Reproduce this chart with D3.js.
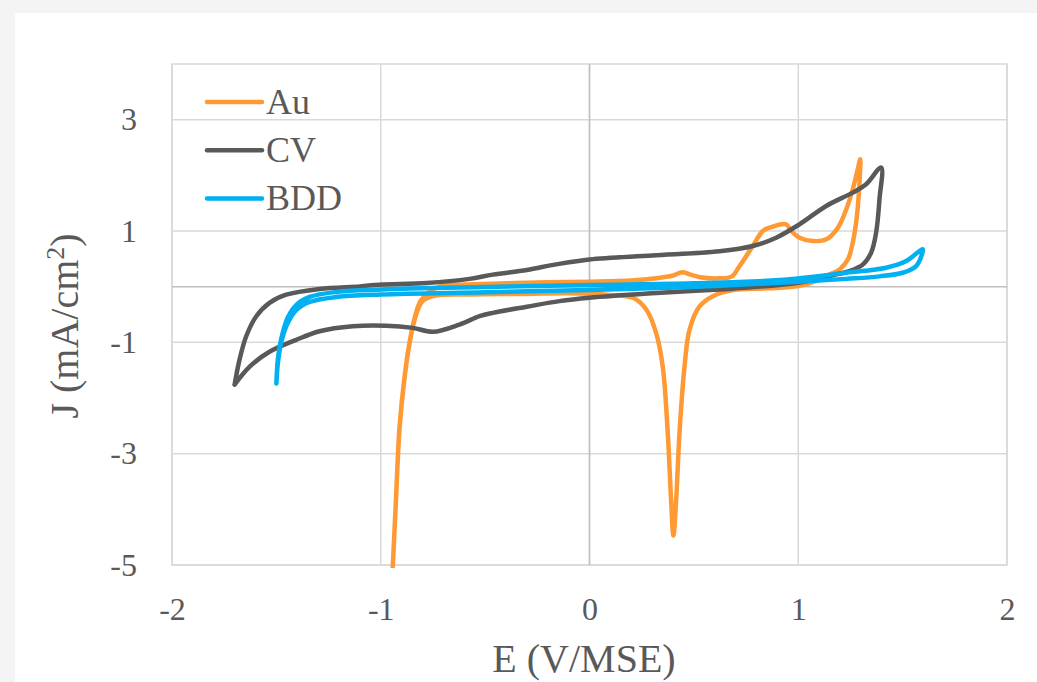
<!DOCTYPE html>
<html>
<head>
<meta charset="utf-8">
<script src="https://cdn.jsdelivr.net/npm/d3@7"></script>
<style>
  html, body { margin: 0; padding: 0; background: #f4f4f4; }
  svg { display: block; }
</style>
</head>
<body>
<svg id="chart" width="1037" height="682"></svg>
<script>
// ---------- data ----------
const seriesNames = ["Au", "CV", "BDD"];
const xTicks = [-2, -1, 0, 1, 2];
const yTicks = [-5, -3, -1, 1, 3];

// Au: forward scan then reverse scan
const auE = [-0.960, -0.942, -0.926, -0.910, -0.886, -0.862, -0.838, -0.810, -0.770, -0.720, -0.600, -0.400, -0.200, 0.000, 0.200, 0.320, 0.400, 0.445, 0.480, 0.530, 0.620, 0.680, 0.719, 0.782, 0.830, 0.862, 0.942, 0.966, 1.006, 1.070, 1.134, 1.190, 1.230, 1.261, 1.285, 1.297,
             1.295, 1.281, 1.261, 1.238, 1.198, 1.150, 1.100, 1.000, 0.850, 0.687, 0.591, 0.527, 0.479, 0.455, 0.431, 0.415, 0.402, 0.391, 0.375, 0.351, 0.319, 0.272, 0.208, 0.100, -0.100, -0.300, -0.575, -0.734, -0.800, -0.838, -0.862, -0.886, -0.910, -0.926, -0.942, -0.960];
const auJ = [-6.2, -5.0, -3.72, -2.52, -1.62, -1.0, -0.57, -0.26, -0.10, 0.00, 0.04, 0.06, 0.08, 0.09, 0.11, 0.15, 0.20, 0.26, 0.22, 0.17, 0.15, 0.18, 0.37, 0.73, 1.00, 1.06, 1.12, 1.00, 0.88, 0.82, 0.85, 1.06, 1.39, 1.75, 2.11, 2.29,
             1.99, 1.27, 0.79, 0.49, 0.31, 0.22, 0.12, 0.01, -0.03, -0.06, -0.17, -0.355, -0.775, -1.44, -2.64, -3.84, -4.47, -3.84, -2.64, -1.44, -0.83, -0.41, -0.20, -0.15, -0.12, -0.13, -0.14, -0.16, -0.26, -0.60, -1.02, -1.64, -2.55, -3.75, -5.0, -6.2];

// CV (carbon): forward (upper) then reverse (lower)
const cvE = [-1.700, -1.677, -1.645, -1.597, -1.533, -1.453, -1.293, -1.100, -1.006, -0.780, -0.575, -0.463, -0.300, -0.160, 0.000, 0.300, 0.623, 0.782, 0.894, 1.006, 1.134, 1.261, 1.325, 1.397,
             1.389, 1.373, 1.349, 1.310, 1.245, 1.182, 1.000, 0.910, 0.670, 0.300, 0.000, -0.144, -0.300, -0.463, -0.527, -0.623, -0.750, -0.846, -0.974, -1.134, -1.293, -1.405, -1.533, -1.629, -1.700];
const cvJ = [-1.76, -1.32, -0.895, -0.535, -0.29, -0.144, -0.04, 0.005, 0.036, 0.066, 0.14, 0.216, 0.30, 0.40, 0.49, 0.56, 0.636, 0.73, 0.88, 1.12, 1.45, 1.69, 1.84, 2.14,
             1.57, 0.97, 0.61, 0.40, 0.28, 0.22, 0.07, 0.03, -0.04, -0.12, -0.20, -0.26, -0.36, -0.47, -0.53, -0.68, -0.81, -0.74, -0.70, -0.71, -0.80, -0.955, -1.17, -1.44, -1.76];

// BDD: forward (upper) then reverse (lower)
const bddE = [-1.500, -1.493, -1.477, -1.445, -1.405, -1.341, -1.213, -1.000, -0.500, 0.000, 0.500, 0.910, 1.230, 1.421, 1.517, 1.581, 1.597,
              1.590, 1.565, 1.500, 1.389, 1.230, 0.910, 0.500, 0.000, -0.500, -1.000, -1.213, -1.341, -1.405, -1.445, -1.477, -1.493, -1.500];
const bddJ = [-1.74, -1.31, -0.94, -0.55, -0.33, -0.185, -0.095, -0.05, -0.005, 0.03, 0.06, 0.12, 0.25, 0.34, 0.46, 0.64, 0.67,
              0.55, 0.37, 0.25, 0.185, 0.14, 0.07, -0.005, -0.06, -0.10, -0.14, -0.185, -0.275, -0.42, -0.65, -1.00, -1.38, -1.74];

const seriesColors = ["#ff9933", "#595959", "#00b0f0"];

// ---------- drawing ----------
const svg = d3.select("#chart");
const W = 1037, H = 682;
const plot = { left: 172, right: 1007, top: 64, bottom: 565 };

svg.append("rect").attr("x", 15).attr("y", 13).attr("width", W - 15).attr("height", H - 13).attr("fill", "#ffffff");

const x = d3.scaleLinear().domain([-2, 2]).range([plot.left, plot.right]);
const y = d3.scaleLinear().domain([-5, 4]).range([plot.bottom, plot.top]);

const grid = svg.append("g");
grid.selectAll("line.h").data(yTicks).join("line")
  .attr("x1", plot.left).attr("x2", plot.right)
  .attr("y1", d => y(d)).attr("y2", d => y(d))
  .attr("stroke", "#d9d9d9").attr("stroke-width", 1.5);
grid.selectAll("line.v").data(xTicks).join("line")
  .attr("y1", plot.top).attr("y2", plot.bottom)
  .attr("x1", d => x(d)).attr("x2", d => x(d))
  .attr("stroke", "#d9d9d9").attr("stroke-width", 1.5);
grid.append("rect")
  .attr("x", plot.left).attr("y", plot.top)
  .attr("width", plot.right - plot.left).attr("height", plot.bottom - plot.top)
  .attr("fill", "none").attr("stroke", "#d9d9d9").attr("stroke-width", 1.5);
// zero axes
grid.append("line").attr("x1", plot.left).attr("x2", plot.right)
  .attr("y1", y(0)).attr("y2", y(0)).attr("stroke", "#bfbfbf").attr("stroke-width", 1.5);
grid.append("line").attr("y1", plot.top).attr("y2", plot.bottom)
  .attr("x1", x(0)).attr("x2", x(0)).attr("stroke", "#bfbfbf").attr("stroke-width", 1.5);

// axes labels
const fontFam = "'Liberation Serif', 'Times New Roman', serif";
const xAxis = svg.append("g").attr("transform", `translate(0,${plot.bottom})`)
  .call(d3.axisBottom(x).tickValues(xTicks).tickSize(0).tickPadding(32).tickFormat(d3.format("d")));
const yAxis = svg.append("g").attr("transform", `translate(${plot.left},0)`)
  .call(d3.axisLeft(y).tickValues(yTicks).tickSize(0).tickPadding(35).tickFormat(d3.format("d")));
[xAxis, yAxis].forEach(a => {
  a.select(".domain").remove();
  a.selectAll("text").attr("font-family", fontFam).attr("font-size", 32).attr("fill", "#595959");
});
xAxis.selectAll("text").text(d => d < 0 ? "-" + Math.abs(d) : d);
yAxis.selectAll("text").text(d => d < 0 ? "-" + Math.abs(d) : d);

// series
const clip = svg.append("clipPath").attr("id", "plotclip").append("rect")
  .attr("x", plot.left).attr("y", plot.top - 2)
  .attr("width", plot.right - plot.left).attr("height", plot.bottom - plot.top + 5);

const series = [
  { name: seriesNames[0], E: auE, J: auJ, color: seriesColors[0] },
  { name: seriesNames[1], E: cvE, J: cvJ, color: seriesColors[1] },
  { name: seriesNames[2], E: bddE, J: bddJ, color: seriesColors[2] }
];
const line = d3.line().x(d => x(d[0])).y(d => y(d[1])).curve(d3.curveCatmullRom.alpha(0.5));
const lines = svg.append("g").attr("clip-path", "url(#plotclip)");
series.forEach(s => {
  lines.append("path")
    .attr("d", line(s.E.map((e, i) => [e, s.J[i]])))
    .attr("fill", "none").attr("stroke", s.color).attr("stroke-width", 4.5)
    .attr("stroke-linejoin", "round").attr("stroke-linecap", "round");
});

// legend
const legend = svg.append("g");
series.forEach((s, i) => {
  const ly = 102 + i * 48.3;
  legend.append("line").attr("x1", 207).attr("x2", 262).attr("y1", ly).attr("y2", ly)
    .attr("stroke", s.color).attr("stroke-width", 4.5).attr("stroke-linecap", "round");
  legend.append("text").attr("x", 266).attr("y", ly + 11.5)
    .attr("font-family", fontFam).attr("font-size", 36).attr("fill", "#595959").text(s.name);
});

// axis titles
svg.append("text").attr("x", 584).attr("y", 672).attr("text-anchor", "middle")
  .attr("font-family", fontFam).attr("font-size", 40).attr("fill", "#595959").text("E (V/MSE)");
const yt = svg.append("text").attr("transform", "translate(78,326) rotate(-90)").attr("text-anchor", "middle")
  .attr("font-family", fontFam).attr("font-size", 40).attr("fill", "#595959");
yt.append("tspan").text("J (mA/cm");
yt.append("tspan").attr("dy", -14).attr("font-size", 26).text("2");
yt.append("tspan").attr("dy", 14).text(")");
</script>
</body>
</html>
